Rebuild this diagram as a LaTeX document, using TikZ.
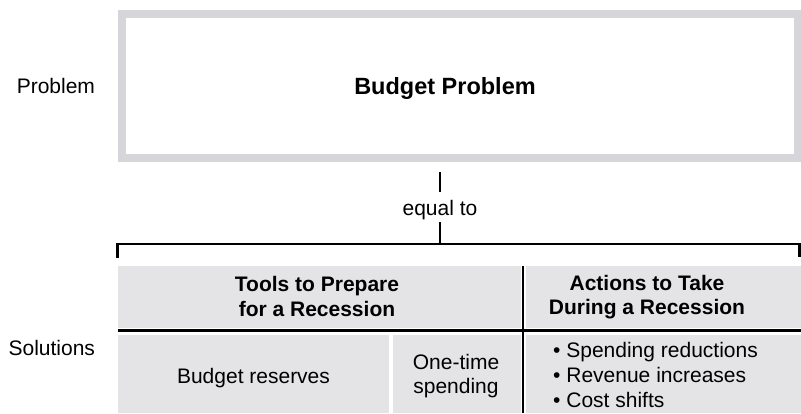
\documentclass[tikz,border=0pt]{standalone}
\usepackage{fontspec}
\setmainfont{Liberation Sans}
\definecolor{framegray}{RGB}{213,213,218}
\definecolor{cellgray}{RGB}{228,228,230}
\begin{document}
\begin{tikzpicture}[x=1pt,y=-1pt,
  label/.style={font=\fontsize{21}{24}\selectfont, inner sep=0pt, outer sep=0pt},
  head/.style={font=\bfseries\fontsize{21}{24.5}\selectfont, inner sep=0pt, outer sep=0pt, align=center},
  body/.style={font=\fontsize{21}{24}\selectfont, inner sep=0pt, outer sep=0pt, align=center},
  cell/.style={fill=cellgray, draw=none, inner sep=0pt, outer sep=0pt, anchor=north west},
  rule/.style={draw=black, line width=2.5pt}]
\useasboundingbox (0,0) rectangle (801,413);

% problem box with its thick grey frame
\node[draw=framegray, line width=8pt, inner sep=0pt, minimum width=675.5pt, minimum height=144pt]
  (prob) at (459.75,86) {};
\node[font=\bfseries\fontsize{23.5}{27}\selectfont, inner sep=0pt, anchor=base] (probtxt) at (445,94) {Budget Problem};
\node[label, anchor=base east] (problbl) at (95,93) {Problem};

% "equal to" link and bracket
\node[label, anchor=base] (eq) at (440,215) {equal to};
\coordinate (tickA) at (440,172);
\coordinate (tickB) at (440,192);
\coordinate (tickC) at (440,222);
\coordinate (brMid) at (440,244);
\coordinate (brL) at (117.5,244);
\coordinate (brR) at (799.5,244);
\coordinate (brLfoot) at (117.5,258);
\coordinate (brRfoot) at (799.5,257);
\draw[rule] (tickA) -- (tickB);
\draw[rule] (tickC) -- (brMid);
\draw[rule] (brLfoot) -- (brL) -- (brR) -- (brRfoot);

% solutions table: header row
\node[cell, minimum width=402.5pt, minimum height=62pt] (hdrL) at (118,266) {};
\node[cell, minimum width=275.5pt, minimum height=62pt] (hdrR) at (525.5,266) {};
\node[head] (hdrLtxt) at (317,296.5) {Tools to Prepare\\for a Recession};
\node[head] (hdrRtxt) at (647,297) {Actions to Take\\During a Recession};

% solutions table: body row
\node[cell, minimum width=271pt, minimum height=78pt] (resv) at (118,335) {};
\node[cell, minimum width=127.5pt, minimum height=78pt] (once) at (393,335) {};
\node[cell, minimum width=275.5pt, minimum height=78pt] (acts) at (525.5,335) {};
\node[label, anchor=base] (resvtxt) at (253.5,383) {Budget reserves};
\node[body] (oncetxt) at (456,376) {One-time\\spending};
\node[font=\fontsize{21}{25}\selectfont, inner sep=0pt, align=left, anchor=west] (actstxt) at (553,374.5)
  {• Spending reductions\\• Revenue increases\\• Cost shifts};
\node[label, anchor=base east] (sollbl) at (95,355) {Solutions};

% table rules
\coordinate (hL) at (118,330.5);
\coordinate (hR) at (801,330.5);
\coordinate (vT) at (523,266);
\coordinate (vB) at (523,413);
\draw[draw=black, line width=3pt] (hL) -- (hR);
\draw[rule] (vT) -- (vB);
\end{tikzpicture}
\end{document}
